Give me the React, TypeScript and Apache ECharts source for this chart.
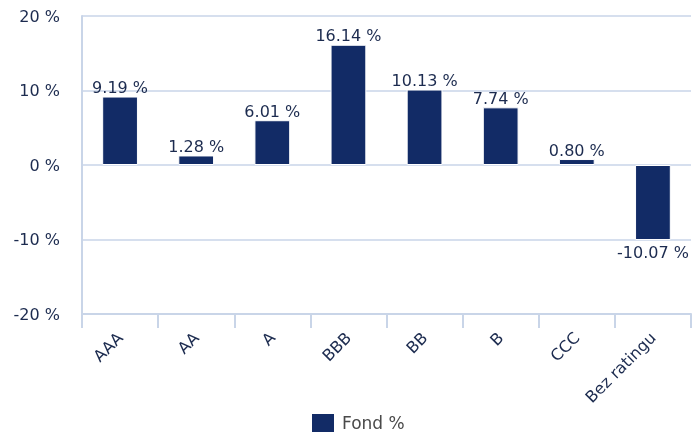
import React, { useEffect, useRef } from "react";
import * as echarts from "echarts";

const categories = ["AAA", "AA", "A", "BBB", "BB", "B", "CCC", "Bez ratingu"];
const fondValues = [9.19, 1.28, 6.01, 16.14, 10.13, 7.74, 0.8, -10.07];
const seriesName = "Fond %";
const yTicks = { min: -20, max: 20, interval: 10 };

const NAVY = "#122b66";
const TEXT = "#1c2b4f";
const LINE = "#c9d5e8";
const FONT = "Verdana, 'DejaVu Sans', sans-serif";

export default function App() {
  const ref = useRef<HTMLDivElement>(null);
  useEffect(() => {
    if (!ref.current) return;
    const chart = echarts.init(ref.current, undefined, { renderer: "svg" });
    chart.setOption({
      animation: false,
      textStyle: { fontFamily: FONT },
      grid: { left: 82, right: 4, top: 16, bottom: 118, containLabel: false },
      legend: {
        top: 412,
        left: 310,
        padding: 0,
        icon: "rect",
        itemWidth: 24,
        itemHeight: 20,
        itemGap: 10,
        textStyle: { color: "#4a4a4a", fontSize: 17, fontFamily: FONT, padding: [0, 0, 0, 2] },
        data: [seriesName],
      },
      xAxis: {
        type: "category",
        data: categories,
        axisLine: { onZero: false, lineStyle: { color: LINE, width: 2 } },
        axisTick: { show: true, length: 14, lineStyle: { color: LINE, width: 2 } },
        axisLabel: {
          rotate: 45,
          color: TEXT,
          fontSize: 16,
          fontFamily: FONT,
          margin: 21,
          interval: 0,
        },
      },
      yAxis: {
        type: "value",
        min: yTicks.min,
        max: yTicks.max,
        interval: yTicks.interval,
        axisLine: { show: true, lineStyle: { color: LINE, width: 2 } },
        axisTick: { show: false },
        splitLine: { lineStyle: { color: LINE, width: 1.5 } },
        axisLabel: {
          formatter: "{value} %",
          color: TEXT,
          fontSize: 16,
          fontFamily: FONT,
          margin: 22,
        },
      },
      series: [
        {
          name: seriesName,
          type: "bar",
          barWidth: "47%",
          itemStyle: { color: NAVY, borderColor: "#ffffff", borderWidth: 1 },
          data: fondValues.map((v) => ({
            value: v,
            label: v >= 0 ? { position: "top", distance: 1 } : { position: "bottom", distance: 4 },
          })),
          label: {
            show: true,
            color: TEXT,
            fontSize: 16,
            fontFamily: FONT,
            formatter: (p: any) => `${Number(p.value).toFixed(2)} %`,
          },
        },
      ],
    });
    return () => chart.dispose();
  }, []);
  return (
    <div
      ref={ref}
      style={{ position: "fixed", top: 0, left: 0, width: 695, height: 432 }}
    />
  );
}
